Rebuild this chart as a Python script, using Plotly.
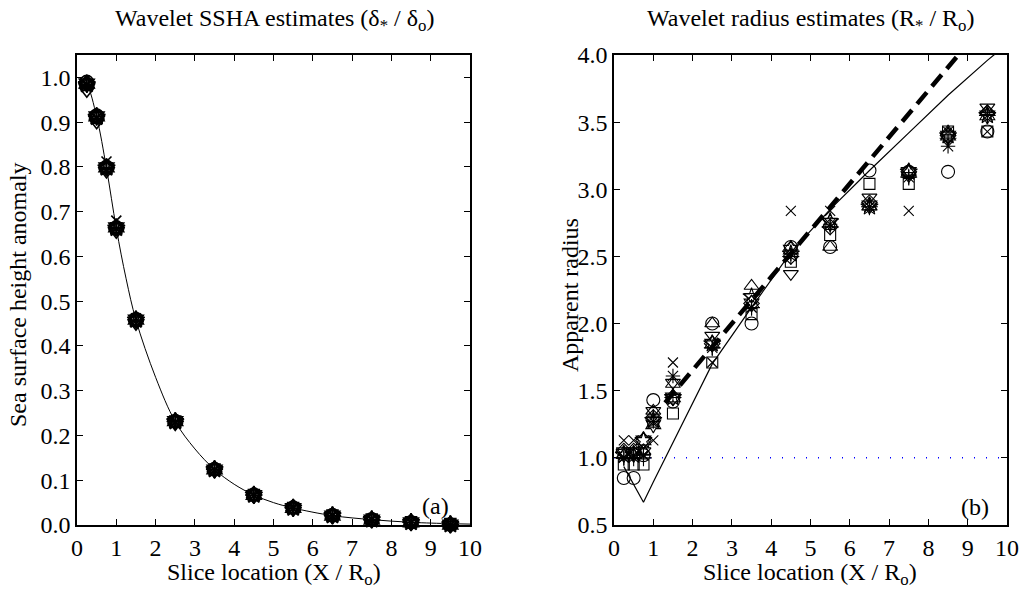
import plotly.graph_objects as go

# ---------------- data ----------------
x_pos = [0.25, 0.5, 0.75, 1.0, 1.5, 2.5, 3.5, 4.5, 5.5, 6.5, 7.5, 8.5, 9.5]

# Panel (a): wavelet SSHA estimates for each test case
ssha_circle   = [0.990, 0.915, 0.800, 0.665, 0.460, 0.232, 0.125, 0.068, 0.039, 0.022, 0.013, 0.006, 0.001]
ssha_x        = [0.985, 0.910, 0.812, 0.680, 0.462, 0.230, 0.123, 0.066, 0.038, 0.021, 0.012, 0.005, 0.000]
ssha_plus     = [0.985, 0.913, 0.798, 0.664, 0.458, 0.231, 0.124, 0.067, 0.038, 0.021, 0.012, 0.006, 0.001]
ssha_star     = [0.982, 0.908, 0.795, 0.662, 0.456, 0.230, 0.123, 0.066, 0.037, 0.020, 0.011, 0.005, 0.001]
ssha_square   = [0.983, 0.910, 0.797, 0.663, 0.457, 0.231, 0.124, 0.067, 0.038, 0.021, 0.012, 0.006, 0.002]
ssha_diamond  = [0.987, 0.914, 0.799, 0.664, 0.459, 0.232, 0.125, 0.067, 0.039, 0.021, 0.012, 0.006, 0.001]
ssha_tri_up   = [0.988, 0.916, 0.801, 0.666, 0.461, 0.233, 0.125, 0.068, 0.039, 0.022, 0.013, 0.007, 0.001]
ssha_tri_down = [0.970, 0.900, 0.790, 0.655, 0.450, 0.226, 0.120, 0.064, 0.036, 0.019, 0.010, 0.004, 0.000]
ssha_penta    = [0.984, 0.911, 0.798, 0.663, 0.458, 0.231, 0.124, 0.067, 0.038, 0.021, 0.012, 0.006, 0.001]
ssha_hexa     = [0.986, 0.913, 0.799, 0.665, 0.459, 0.232, 0.124, 0.067, 0.038, 0.021, 0.012, 0.006, 0.001]

ssha_curve_x = [0, 0.1, 0.25, 0.5, 0.75, 1.0, 1.25, 1.5, 2.0, 2.5, 3.0, 3.5, 4.0, 4.5, 5.0, 5.5, 6.5, 7.5, 8.5, 9.5, 10]
ssha_curve_y = [1.0, 0.997, 0.985, 0.912, 0.797, 0.663, 0.55, 0.458, 0.33, 0.231, 0.17, 0.124, 0.091, 0.067, 0.05,
                0.038, 0.021, 0.012, 0.006, 0.003, 0.002]

# Panel (b): wavelet radius estimates for each test case
rad_circle   = [0.85, 0.85, 1.02, 1.43, 1.42, 2.00, 2.00, 2.57, 2.57, 3.14, 3.13, 3.13, 3.43]
rad_x        = [1.13, 1.13, 1.02, 1.13, 1.71, 1.71, 2.12, 2.84, 2.84, 2.87, 2.84, 3.43, 3.43]
rad_plus     = [1.00, 1.00, 1.00, 1.30, 1.45, 1.82, 2.12, 2.50, 2.72, 2.87, 3.09, 3.38, 3.55]
rad_star     = [1.00, 1.02, 1.02, 1.27, 1.61, 1.82, 2.12, 2.52, 2.74, 2.87, 3.09, 3.32, 3.55]
rad_square   = [0.95, 0.95, 0.95, 1.27, 1.33, 1.71, 2.07, 2.46, 2.66, 3.04, 3.04, 3.43, 3.43]
rad_diamond  = [1.05, 1.05, 1.13, 1.30, 1.45, 1.85, 2.15, 2.50, 2.72, 2.90, 3.13, 3.40, 3.57]
rad_tri_up   = [1.02, 1.02, 1.05, 1.35, 1.55, 2.00, 2.28, 2.57, 2.57, 2.87, 3.13, 3.43, 3.58]
rad_tri_down = [1.05, 1.05, 1.05, 1.35, 1.56, 1.91, 2.20, 2.37, 2.76, 2.94, 3.10, 3.38, 3.61]
rad_penta    = [1.02, 1.02, 1.13, 1.28, 1.45, 1.85, 2.20, 2.52, 2.76, 2.87, 3.13, 3.40, 3.55]
rad_hexa     = [1.03, 1.03, 1.13, 1.25, 1.45, 1.85, 2.15, 2.55, 2.75, 2.88, 3.13, 3.40, 3.55]

rad_curve_x = [0.25, 0.5, 0.75, 1.0, 1.5, 2.5, 3.5, 4.5, 5.5, 6.5, 7.5, 8.5, 9.5, 10]
rad_curve_y = [0.935, 0.80, 0.67, 0.82, 1.11, 1.70, 2.12, 2.53, 2.85, 3.14, 3.42, 3.70, 3.96, 4.08]

rad_dash_x = [1.3, 10.0]
rad_dash_y = [1.41, 4.43]

ref_x = [0, 10]
ref_y = [1.0, 1.0]

x_ticks = list(range(0, 11))
ssha_ticks = [0.0, 0.1, 0.2, 0.3, 0.4, 0.5, 0.6, 0.7, 0.8, 0.9, 1.0]
rad_ticks = [0.5, 1.0, 1.5, 2.0, 2.5, 3.0, 3.5, 4.0]

# ---------------- figure ----------------
FONT = "Liberation Serif"
FS = 24
W, H = 1022, 594

symbols = ["circle-open", "x-thin-open", "cross-thin-open", "asterisk-open", "square-open",
           "diamond-open", "triangle-up-open", "triangle-down-open", "star-open", "hexagram-open"]
sizes = [13, 10, 12, 12, 11, 12, 13, 13, 13, 13]
ssha_sets = [ssha_circle, ssha_x, ssha_plus, ssha_star, ssha_square, ssha_diamond,
             ssha_tri_up, ssha_tri_down, ssha_penta, ssha_hexa]
rad_sets = [rad_circle, rad_x, rad_plus, rad_star, rad_square, rad_diamond,
            rad_tri_up, rad_tri_down, rad_penta, rad_hexa]

fig = go.Figure()

# panel (a)
fig.add_trace(go.Scatter(x=ssha_curve_x, y=ssha_curve_y, mode="lines", line=dict(color="black", width=1, shape="spline"),
                         xaxis="x", yaxis="y", showlegend=False, hoverinfo="skip"))
for sym, sz, ys in zip(symbols, sizes, ssha_sets):
    fig.add_trace(go.Scatter(x=x_pos, y=ys, mode="markers", xaxis="x", yaxis="y", showlegend=False,
                             cliponaxis=False,
                             marker=dict(symbol=sym, size=sz, color="black", line=dict(color="black", width=1.6))))

# panel (b)
fig.add_trace(go.Scatter(x=ref_x, y=ref_y, mode="lines", line=dict(color="blue", width=1.5, dash="1px,11px"),
                         xaxis="x2", yaxis="y2", showlegend=False))
fig.add_trace(go.Scatter(x=rad_curve_x, y=rad_curve_y, mode="lines", line=dict(color="black", width=1.2),
                         xaxis="x2", yaxis="y2", showlegend=False))
fig.add_trace(go.Scatter(x=rad_dash_x, y=rad_dash_y, mode="lines", line=dict(color="black", width=4.5, dash="15px,8px"),
                         xaxis="x2", yaxis="y2", showlegend=False))
for sym, sz, ys in zip(symbols, sizes, rad_sets):
    fig.add_trace(go.Scatter(x=x_pos, y=ys, mode="markers", xaxis="x2", yaxis="y2", showlegend=False,
                             cliponaxis=False,
                             marker=dict(symbol=sym, size=sz, color="black", line=dict(color="black", width=1.1))))

axis_common = dict(showline=True, linecolor="black", linewidth=1.5, mirror="allticks",
                   ticks="inside", ticklen=6, tickwidth=1, tickcolor="black",
                   showgrid=False, zeroline=False, automargin=False,
                   tickfont=dict(family=FONT, size=FS, color="black"))

ybot = 1 - 525 / H
ytop = 1 - 55 / H

fig.update_layout(
    width=W, height=H,
    margin=dict(l=0, r=0, t=0, b=0),
    paper_bgcolor="white", plot_bgcolor="white",
    xaxis=dict(axis_common, domain=[77 / W, 470 / W], range=[0, 10], tickvals=x_ticks, anchor="y"),
    yaxis=dict(axis_common, domain=[ybot, ytop], range=[0, 1.05], tickvals=ssha_ticks, tickformat=".1f", anchor="x"),
    xaxis2=dict(axis_common, domain=[614 / W, 1007 / W], range=[0, 10], tickvals=x_ticks, anchor="y2"),
    yaxis2=dict(axis_common, domain=[ybot, ytop], range=[0.5, 4.0], tickvals=rad_ticks, tickformat=".1f", anchor="x2"),
    font=dict(family=FONT, size=FS, color="black"),
)

ann_font = dict(family=FONT, size=FS, color="black")
annotations = [
    dict(text="Wavelet SSHA estimates (δ<sub>*</sub> / δ<sub>o</sub>)", x=274 / W, y=1 - 20 / H),
    dict(text="Wavelet radius estimates (R<sub>*</sub> / R<sub>o</sub>)", x=810 / W, y=1 - 20 / H),
    dict(text="Slice location (X / R<sub>o</sub>)", x=274 / W, y=1 - 574 / H),
    dict(text="Slice location (X / R<sub>o</sub>)", x=810 / W, y=1 - 574 / H),
    dict(text="Sea surface height anomaly", x=18 / W, y=1 - 295 / H, textangle=-90),
    dict(text="Apparent radius", x=570 / W, y=1 - 295 / H, textangle=-90),
]
for a in annotations:
    fig.add_annotation(xref="paper", yref="paper", showarrow=False, font=ann_font,
                       xanchor="center", yanchor="middle", **a)

fig.add_annotation(text="(a)", x=9.13, y=0.042, xref="x", yref="y", showarrow=False, font=ann_font)
fig.add_annotation(text="(b)", x=9.19, y=0.634, xref="x2", yref="y2", showarrow=False, font=ann_font)

fig.write_html("out.html")
